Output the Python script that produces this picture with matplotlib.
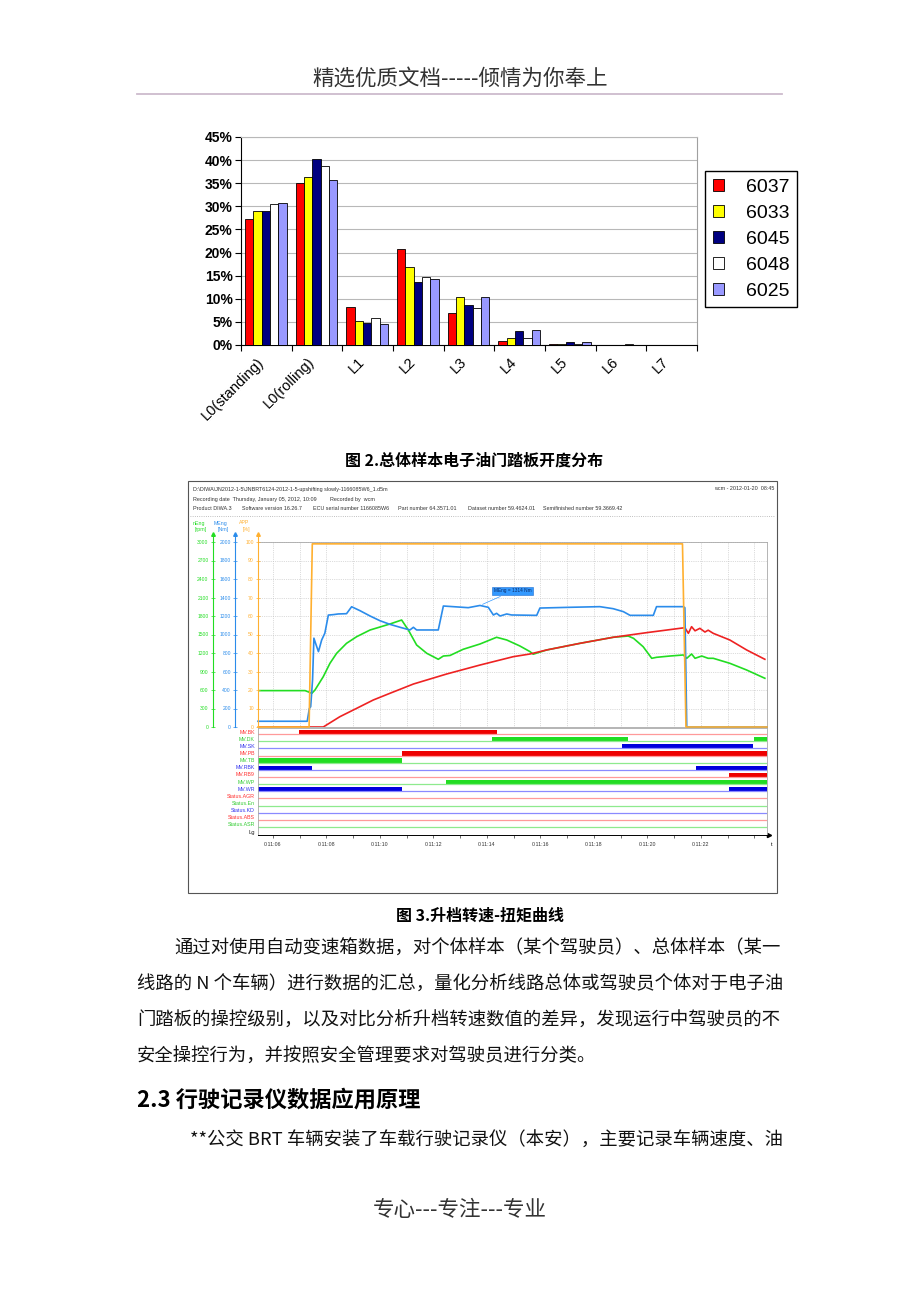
import numpy as np
import matplotlib.pyplot as plt
from matplotlib.patches import Rectangle
from matplotlib.ticker import FuncFormatter
import matplotlib.transforms as mtrans

plt.rcParams['font.family'] = ['Liberation Sans', 'DejaVu Sans']
CJK = ['Noto Sans CJK SC', 'DejaVu Sans']

W, H = 920, 1302

# ---------- 图2 数据：油门踏板开度分布 (%)
levels = ['L0(standing)', 'L0(rolling)', 'L1', 'L2', 'L3', 'L4', 'L5', 'L6', 'L7']
buses = ['6037', '6033', '6045', '6048', '6025']
bus_colors = ['#FF0000', '#FFFF00', '#000080', '#FFFFFF', '#9999FF']
share_6037 = [27.3, 35.1, 8.3, 20.8, 6.9, 0.9, 0.3, 0.0, 0.0]
share_6033 = [29.0, 36.3, 5.1, 16.8, 10.4, 1.6, 0.3, 0.0, 0.0]
share_6045 = [29.0, 40.2, 4.7, 13.7, 8.6, 3.0, 0.7, 0.0, 0.0]
share_6048 = [30.4, 38.7, 5.8, 14.7, 8.0, 1.6, 0.3, 0.3, 0.0]
share_6025 = [30.7, 35.8, 4.6, 14.2, 10.4, 3.3, 0.6, 0.0, 0.0]

# ---------- 图3 数据：时间 (s, 0:11:xx)
t_app = [5.44, 7.35, 7.47, 21.31, 21.44, 24.47]
app = [0, 0, 99, 99, 0, 0]

t_meng = [5.44, 7.28, 7.36, 7.41, 7.48, 7.53, 7.61, 7.70, 7.82, 7.94, 8.07, 8.26,
          8.44, 8.75, 8.94, 9.25, 9.63, 10.0, 10.37, 10.75, 11.12, 11.25, 11.37,
          12.18, 12.37, 13.30, 13.74, 14.05, 14.24, 14.36, 14.49, 14.74, 14.92,
          15.86, 15.98, 17.10, 18.22, 18.72, 19.10, 19.35, 20.22, 20.34, 21.34,
          21.40, 21.47, 24.47]
meng = [62, 62, 200, 220, 510, 960, 890, 815, 940, 1015, 1210, 1215,
        1222, 1225, 1300, 1258, 1200, 1149, 1110, 1078, 1049, 1078, 1049,
        1049, 1308, 1290, 1314, 1294, 1211, 1229, 1200, 1222, 1211,
        1207, 1286, 1294, 1301, 1279, 1247, 1207, 1207, 1301, 1301,
        1290, 0, 0]

t_neng = [5.44, 7.20, 7.32, 7.45, 7.57, 7.88, 8.13, 8.38, 8.75, 9.13, 9.63, 10.37,
          10.81, 11.06, 11.37, 11.75, 12.18, 12.37, 12.62, 13.11, 13.74, 14.36,
          14.74, 15.23, 15.61, 15.73, 16.23, 17.48, 18.72, 19.28, 19.48, 19.84,
          20.16, 20.34, 20.84, 21.34, 21.47, 21.65, 21.78, 22.03, 22.27, 22.46,
          23.08, 23.71, 24.39]
neng = [590, 590, 570, 545, 600, 816, 1033, 1195, 1357, 1465, 1573, 1670,
        1735, 1573, 1330, 1195, 1098, 1151, 1160, 1260, 1346, 1455,
        1411, 1314, 1222, 1180, 1249, 1357, 1455, 1475, 1438, 1302,
        1114, 1130, 1151, 1168, 1114, 1184, 1114, 1151, 1114, 1114,
        1033, 924, 790]

t_red = [5.44, 7.88, 8.50, 9.13, 9.75, 10.37, 11.25, 12.49, 13.74, 14.98, 15.61,
         16.23, 17.48, 18.72, 19.97, 21.21, 21.40, 21.53, 21.65, 21.78, 21.96,
         22.15, 22.27, 22.46, 23.08, 23.71, 24.39]
red_sig = [0, 0, 167, 303, 438, 546, 697, 859, 1005, 1140, 1184,
           1249, 1357, 1455, 1530, 1600, 1610, 1519, 1627, 1560, 1600,
           1540, 1570, 1519, 1411, 1249, 1098]

lane_names = ['MV.BK', 'MV.DK', 'MV.SK', 'MV.PB', 'MV.TB', 'MV.RBK', 'MV.RB9',
              'MV.WP', 'MV.WR', 'Status.AGR', 'Status.En', 'Status.KD',
              'Status.ABS', 'Status.ASR']
lane_kind = ['r', 'g', 'b', 'r', 'g', 'b', 'r', 'g', 'b', 'r', 'g', 'b', 'r', 'g']
lane_on = [
    [(6.98, 14.36)],
    [(14.17, 19.26), (23.98, 24.47)],
    [(19.06, 23.96)],
    [(10.82, 24.47)],
    [(5.44, 10.82)],
    [(5.44, 7.47), (21.81, 24.47)],
    [(23.06, 24.47)],
    [(12.47, 24.47)],
    [(5.44, 10.82), (23.06, 24.47)],
    [], [], [], [], [],
]

body_lines = [
    '通过对使用自动变速箱数据，对个体样本（某个驾驶员）、总体样本（某一',
    '线路的 N 个车辆）进行数据的汇总，量化分析线路总体或驾驶员个体对于电子油',
    '门踏板的操控级别，以及对比分析升档转速数值的差异，发现运行中驾驶员的不',
    '安全操控行为，并按照安全管理要求对驾驶员进行分类。',
]

fig = plt.figure(figsize=(W / 100, H / 100), dpi=100)


def px_axes(x, y, w, h):
    return fig.add_axes([x / W, 1 - (y + h) / H, w / W, h / H])


page = px_axes(0, 0, W, H)
page.set_xlim(0, W)
page.set_ylim(H, 0)
page.axis('off')

# 页眉 / 页脚
page.text(460, 79, '精选优质文档-----倾情为你奉上', family=CJK, fontsize=15.5,
          color='#333333', ha='center', va='center', fontweight='light')
page.plot([137, 782], [94, 94], color='#CDBBCD', lw=1.3)
page.text(460, 1210, '专心---专注---专业', family=CJK, fontsize=15.5,
          color='#333333', ha='center', va='center', fontweight='light')

# ---------------- 图2 柱状图
ax1 = px_axes(241, 137, 456, 208)
x = np.arange(len(levels))
bw = 0.164
series = [share_6037, share_6033, share_6045, share_6048, share_6025]
for k, (vals, col, name) in enumerate(zip(series, bus_colors, buses)):
    ax1.bar(x + 0.162 + k * bw, vals, width=bw, color=col, edgecolor='black',
            linewidth=0.6, label=name, zorder=3)
ax1.set_xlim(0, 9)
ax1.set_ylim(0, 45)
ax1.set_yticks(range(0, 50, 5))
ax1.set_yticklabels([f'{v}%' for v in range(0, 50, 5)], fontsize=10, fontweight='bold')
ax1.yaxis.grid(True, color='#B8B8B8', lw=0.8)
ax1.set_axisbelow(True)
ax1.set_xticks(x + 0.5)
ax1.set_xticklabels(levels, rotation=45, ha='right', fontsize=10.5)
ax1.tick_params(axis='x', which='major', length=0, pad=7)
ax1.set_xticks(np.arange(10), minor=True)
ax1.tick_params(axis='x', which='minor', length=4, width=0.8)
ax1.tick_params(axis='y', length=4, width=0.8, pad=2)
ax1.spines['top'].set_color('#B8B8B8')
ax1.spines['right'].set_color('#A0A0A0')

h, l = ax1.get_legend_handles_labels()
leg = fig.legend(h, l, loc='upper left', bbox_to_anchor=(705 / W, 1 - 171 / H),
                 fontsize=14, handlelength=0.6, handleheight=0.6, handletextpad=1.1,
                 labelspacing=0.46, borderpad=0.4, borderaxespad=0,
                 fancybox=False, edgecolor='black', framealpha=1)
leg.get_frame().set_linewidth(1.0)

page.text(474, 461, '图 2.总体样本电子油门踏板开度分布', family=CJK, fontsize=11.5,
          fontweight='bold', ha='center', va='center')

# ---------------- 图3 曲线图
page.add_patch(Rectangle((188, 481), 589, 412, fill=False, ec='#555555', lw=0.8))
hdr = dict(fontsize=3.9, color='#333333', va='center')
page.text(193, 489, r'D:\DIWA\JN2012-1-5\JNBRT6124-2012-1-5-upshifting slowly-1166085W6_1.d5m', **hdr)
page.text(774, 489, 'wcm - 2012-01-20  08:45', ha='right', **hdr)
page.text(193, 500, 'Recording date  Thursday, January 05, 2012, 10:09', **hdr)
page.text(330, 500, 'Recorded by  wcm', **hdr)
for xx, s in [(193, 'Product DIWA.3'), (242, 'Software version 16.26.7'),
              (313, 'ECU serial number 1166085W6'), (398, 'Part number 64.3571.01'),
              (468, 'Dataset number 59.4624.01'), (543, 'Semifinished number 59.3669.42')]:
    page.text(xx, 508, s, **hdr)
page.plot([190, 775], [516, 516], color='#AAAAAA', lw=0.6, ls=':')

GREEN, BLUE, ORANGE, RED = '#22DD22', '#2B8CEB', '#FFB030', '#EE2222'
rect = (258, 542, 509, 185)
ax_n = px_axes(*rect)
ax_m = px_axes(*rect)
ax_a = px_axes(*rect)
for a in (ax_n, ax_m, ax_a):
    a.set_xlim(5.44, 24.47)
    a.tick_params(axis='x', bottom=False, labelbottom=False)
for a in (ax_m, ax_a):
    a.patch.set_visible(False)
    for s in ('top', 'right', 'bottom'):
        a.spines[s].set_visible(False)

ax_n.set_ylim(0, 3000)
ax_m.set_ylim(0, 2000)
ax_a.set_ylim(0, 100)
ax_n.set_xticks(range(6, 25))
ax_n.set_yticks(range(0, 3001, 300))
ax_m.set_yticks(range(0, 2001, 200))
ax_a.set_yticks(range(0, 101, 10))
ax_n.grid(True, color='#BBBBBB', lw=0.5, ls=':')
for s in ('top', 'right', 'bottom'):
    ax_n.spines[s].set_color('#A8A8A8')
    ax_n.spines[s].set_linewidth(0.6)

for a, col, off in ((ax_n, GREEN, -45.3), (ax_m, BLUE, -23.0), (ax_a, ORANGE, 0.0)):
    a.spines['left'].set_position(('axes', off / rect[2]))
    a.spines['left'].set_color(col)
    a.spines['left'].set_linewidth(0.8)
    a.tick_params(axis='y', colors=col, labelsize=3.6, length=3, width=0.5,
                  direction='inout', pad=1.5)

ax_n.plot(t_neng, neng, color=GREEN, lw=1.2, zorder=2)
ax_n.plot(t_red, red_sig, color=RED, lw=1.2, zorder=3)
ax_m.plot(t_meng, meng, color=BLUE, lw=1.2, clip_on=False)
ax_a.plot(t_app, app, color=ORANGE, lw=1.2, clip_on=False)
ax_m.annotate('MEng = 1314 Nm', xy=(13.74, 1314), xytext=(14, 12),
              textcoords='offset pixels', fontsize=3.4, color='#0B2A66',
              ha='left', va='bottom',
              bbox=dict(boxstyle='square,pad=0.35', fc='#3399FF', ec='#1F6FD0', lw=0.4),
              arrowprops=dict(arrowstyle='-', color='#3399FF', lw=0.5))

for xx, col, name, unit in ((212.7, GREEN, 'nEng', '[rpm]'), (235.0, BLUE, 'MEng', '[Nm]'),
                            (258.0, ORANGE, 'APP', '[%]')):
    page.plot([xx, xx], [534, 542], color=col, lw=0.8)
    page.plot(xx, 534, marker='^', ms=2.6, color=col, mec=col)
    page.text(xx - 14, 523, name, color=col, fontsize=3.8, ha='center', va='center')
    page.text(xx - 12, 529, unit, color=col, fontsize=3.8, ha='center', va='center')

# 开关信号通道
light = {'r': '#FF9A9A', 'g': '#8EEA8E', 'b': '#8A8AFF'}
dark = {'r': '#EE0000', 'g': '#22DD22', 'b': '#0000DD'}
label_col = {'r': '#FF3030', 'g': '#33CC33', 'b': '#3333EE'}
ax_l = px_axes(258, 728, 509, 107)
ax_l.set_xlim(5.44, 24.47)
ax_l.set_ylim(14.41, -0.56)
ytr = mtrans.blended_transform_factory(ax_l.transAxes, ax_l.transData)
for i, (name, kind, segs) in enumerate(zip(lane_names, lane_kind, lane_on)):
    ax_l.axhline(i + 0.3, color=light[kind], lw=0.9)
    if segs:
        ax_l.broken_barh([(s, e - s) for s, e in segs], (i - 0.3, 0.6),
                         facecolors=dark[kind])
    ax_l.text(-0.006, i, name, transform=ytr, ha='right', va='center',
              color=label_col[kind], fontsize=3.8)
ax_l.text(-0.006, 14.0, 'Lg', transform=ytr, ha='right', va='center',
          color='#222222', fontsize=4.2)
ax_l.set_yticks([])
ax_l.set_xticks(range(6, 25))
ax_l.xaxis.set_major_formatter(FuncFormatter(
    lambda v, p: f'0:11:{int(round(v)):02d}' if int(round(v)) % 2 == 0 and v < 23 else ''))
ax_l.tick_params(axis='x', labelsize=3.8, length=2.5, width=0.5, pad=2.5,
                 colors='#333333')
for s in ('top', 'right', 'left'):
    ax_l.spines[s].set_color('#A8A8A8')
    ax_l.spines[s].set_linewidth(0.6)
ax_l.spines['bottom'].set_linewidth(0.7)
page.plot(769, 835, marker='>', ms=3, color='black')
page.text(772, 844, 't', fontsize=4, ha='center', va='center')
page.text(263, 832, '◁0', family=['DejaVu Sans'], fontsize=3.4, va='center', color='#444444')
page.text(313, 832, '0', fontsize=3.6, va='center', ha='center', color='#444444')
page.text(687, 832, '0', fontsize=3.6, va='center', ha='center', color='#444444')

page.text(480, 916, '图 3.升档转速-扭矩曲线', family=CJK, fontsize=11.5,
          fontweight='bold', ha='center', va='center')

# ---------------- 正文
body_x = [174, 137, 137, 137]
body_y = [949, 985, 1021, 1057]
for xx, yy, s in zip(body_x, body_y, body_lines):
    page.text(xx, yy, s, family=CJK, fontsize=13.2, ha='left', va='center', color='#111111')
page.text(137, 1100, '2.3 行驶记录仪数据应用原理', family=CJK, fontsize=16,
          fontweight='bold', ha='left', va='center')
page.text(190, 1141, '**公交 BRT 车辆安装了车载行驶记录仪（本安），主要记录车辆速度、油',
          family=CJK, fontsize=13.2, ha='left', va='center', color='#111111')

fig.savefig('out.png', dpi=100)
